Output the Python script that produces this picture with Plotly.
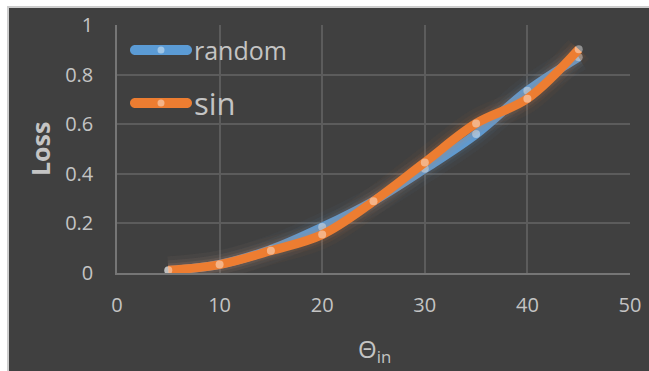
import plotly.graph_objects as go

# Loss versus input angle for two initialisations
theta_in = [5, 10, 15, 20, 25, 30, 35, 40, 45]
loss_random = [0.01, 0.035, 0.095, 0.185, 0.29, 0.42, 0.56, 0.735, 0.87]
loss_sin = [0.011, 0.034, 0.09, 0.155, 0.289, 0.446, 0.603, 0.703, 0.902]
series_names = ["random", "sin"]
x_ticks = [0, 10, 20, 30, 40, 50]
y_ticks = [0, 0.2, 0.4, 0.6, 0.8, 1]

BLUE = "#5B9BD5"
ORANGE = "#ED7D31"
BG = "#404040"
TEXT = "#c4c4c4"
FONT = "Open Sans"

WIDTH, HEIGHT = 649, 371
L, R, T, B = 117, 19, 25, 98
PW, PH = WIDTH - L - R, HEIGHT - T - B


def px(x):
    return (x - L) / PW


def py(y):
    return 1 - (y - T) / PH


def rgba(hex_color, a):
    h = hex_color.lstrip("#")
    r, g, b = int(h[0:2], 16), int(h[2:4], 16), int(h[4:6], 16)
    return f"rgba({r},{g},{b},{a})"


fig = go.Figure()

for ys, color in [(loss_random, BLUE), (loss_sin, ORANGE)]:
    # soft glow under each curve
    for w, a in [(28, 0.04), (20, 0.06), (14, 0.09)]:
        fig.add_trace(go.Scatter(
            x=theta_in, y=ys, mode="lines",
            line=dict(color=rgba(color, a), width=w, shape="spline"),
            hoverinfo="skip", showlegend=False,
        ))
    fig.add_trace(go.Scatter(
        x=theta_in, y=ys, mode="lines+markers",
        line=dict(color=color, width=9, shape="spline"),
        marker=dict(size=8, color="rgba(255,255,255,0.42)", line=dict(width=0)),
        showlegend=False,
    ))


def capsule(x0, x1, yc, r):
    k = 0.5523 * r
    pts = [
        ("M", [(x0 + r, yc - r)]),
        ("L", [(x1 - r, yc - r)]),
        ("C", [(x1 - r + k, yc - r), (x1, yc - k), (x1, yc)]),
        ("C", [(x1, yc + k), (x1 - r + k, yc + r), (x1 - r, yc + r)]),
        ("L", [(x0 + r, yc + r)]),
        ("C", [(x0 + r - k, yc + r), (x0, yc + k), (x0, yc)]),
        ("C", [(x0, yc - k), (x0 + r - k, yc - r), (x0 + r, yc - r)]),
    ]
    out = ""
    for cmd, coords in pts:
        out += cmd + " ".join(f"{px(a):.5f},{py(b):.5f}" for a, b in coords) + " "
    return out + "Z"


shapes = [
    # dark chart area with a light frame on its top and left edges
    dict(type="rect", xref="paper", yref="paper", layer="below",
         x0=px(8), x1=px(700), y0=py(7), y1=py(420),
         fillcolor=BG, line=dict(color="#cdcdcd", width=2)),
]

annotations = [
    dict(text="<b>Loss</b>", xref="paper", yref="paper", x=px(40), y=py(149),
         textangle=-90, showarrow=False, font=dict(family=FONT, size=25, color=TEXT),
         xanchor="center", yanchor="middle"),
    dict(text="Θ<sub>in</sub>", xref="paper", yref="paper", x=px(374), y=py(350),
         showarrow=False, font=dict(family=FONT, size=24, color=TEXT),
         xanchor="center", yanchor="middle"),
]

# legend entries
legend_rows = [(series_names[0], BLUE, 50, 25), (series_names[1], ORANGE, 103, 31)]
for name, color, yc, fsize in legend_rows:
    shapes.append(dict(type="path", xref="paper", yref="paper", layer="above",
                       path=capsule(130, 192, yc, 5), fillcolor=color,
                       line=dict(width=0)))
    shapes.append(dict(type="circle", xref="paper", yref="paper", layer="above",
                       x0=px(157.5), x1=px(164.5), y0=py(yc - 3.5), y1=py(yc + 3.5),
                       fillcolor="rgba(255,255,255,0.42)", line=dict(width=0)))
    annotations.append(dict(text=name, xref="paper", yref="paper", x=px(192), y=py(yc),
                            showarrow=False, xanchor="left", yanchor="middle",
                            font=dict(family=FONT, size=fsize, color=TEXT)))

fig.update_layout(
    width=WIDTH, height=HEIGHT,
    margin=dict(l=L, r=R, t=T, b=B, autoexpand=False),
    paper_bgcolor="white", plot_bgcolor="rgba(0,0,0,0)",
    shapes=shapes, annotations=annotations,
    showlegend=False,
    font=dict(family=FONT, color=TEXT),
)
fig.update_xaxes(
    range=[0, 50], tickvals=x_ticks, showgrid=True, gridcolor="#5c5c5c", gridwidth=1.5,
    zeroline=False, showline=True, linecolor="#767676", linewidth=1.5,
    ticks="", ticklabelstandoff=13, tickfont=dict(family=FONT, size=20, color=TEXT),
    automargin=False,
)
fig.update_yaxes(
    range=[0, 1], tickvals=y_ticks, ticktext=[f"{v:g}" for v in y_ticks],
    showgrid=True, gridcolor="#5c5c5c", gridwidth=1.5,
    zeroline=False, showline=True, linecolor="#767676", linewidth=1.5,
    ticks="", ticklabelstandoff=18, tickfont=dict(family=FONT, size=20, color=TEXT),
    automargin=False,
)

fig.write_html("out.html")
